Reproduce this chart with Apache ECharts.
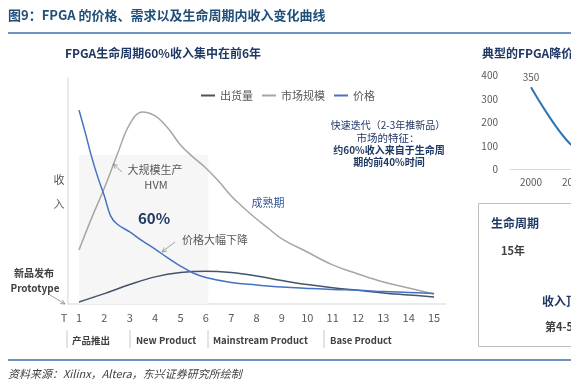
<!DOCTYPE html>
<html><head><meta charset="utf-8">
<script src="https://cdn.jsdelivr.net/npm/echarts@6/dist/echarts.min.js"></script>
<style>html,body{margin:0;padding:0;background:#fff}#c{width:571px;height:388px}</style>
</head><body><div id="c"></div>
<script>
// ---- data ----
const seriesNames = ['出货量', '市场规模', '价格'];
const xTicks = [1,2,3,4,5,6,7,8,9,10,11,12,13,14,15];
const xShipment = [1,2,3,4,5,6,7,8,9,10,11,12,13,14,15];
const shipment = [0.9,4.6,8.6,12.0,13.9,14.5,13.9,12.4,10.4,8.6,7.2,6.1,4.9,4.0,3.1];
const xMarket = [1,1.5,2,2.5,3,3.5,4,4.5,5,5.5,6,6.5,7,7.5,8,8.5,9,10,11,12,13,14,15];
const market = [23.9,38.1,51.3,65.9,79.6,85.0,83.2,77.9,70.4,65.0,60.2,54.4,47.8,42.5,37.6,33.2,28.8,23.0,17.3,13.3,9.7,7.1,4.4];
const xPrice = [1,1.25,1.5,1.75,2,2.25,2.5,3,3.5,4,4.5,5,5.5,6,7,8,9,10,11,12,13,14,15];
const price = [85.8,75.7,65.0,55.8,47.8,38.9,35.4,31.9,27.9,24.3,20.4,16.8,13.7,11.7,9.5,8.4,7.5,6.9,6.4,6.1,5.5,5.1,4.6];
const shadeRange = [1, 6.1];
const shadeTop = 66;
const fpgaYears = ['2000', '2005', '2010'];
const fpgaPrice = [350, 98, 50];
const rightYTicks = [0, 100, 200, 300, 400];

const FONT = '"Noto Sans CJK SC", "Noto Sans", sans-serif';
const NAVY = '#1f3864';
const GREY = '#595959';

function zip(xs, ys) { return xs.map((x, i) => [x, ys[i]]); }
function txt(x, y, text, size, color, opts) {
  opts = opts || {};
  return {
    type: 'text', silent: true, z: 100,
    style: {
      x: x, y: y, text: text,
      font: (opts.italic ? 'italic ' : '') + (opts.bold ? 'bold ' : '') + size + 'px ' + FONT,
      fill: color,
      textAlign: opts.align || 'left', align: opts.align || 'left',
      textVerticalAlign: 'middle', verticalAlign: 'middle'
    }
  };
}
function arrow(x1, y1, x2, y2) {
  const a = Math.atan2(y2 - y1, x2 - x1), L = 5, s = 0.45;
  const c = '#8c8c8c';
  return {
    type: 'group', silent: true, z: 100, children: [
      { type: 'line', z: 100, shape: { x1, y1, x2, y2 }, style: { stroke: c, lineWidth: 0.8 } },
      { type: 'polyline', z: 100, shape: { points: [
        [x2 - L * Math.cos(a - s), y2 - L * Math.sin(a - s)], [x2, y2],
        [x2 - L * Math.cos(a + s), y2 - L * Math.sin(a + s)]] },
        style: { stroke: c, lineWidth: 0.8, fill: null } }
    ]
  };
}
function vline(x, y1, y2, color, w) {
  return { type: 'line', silent: true, z: 100, shape: { x1: x, y1: y1, x2: x, y2: y2 }, style: { stroke: color, lineWidth: w } };
}
function hline(y, x1, x2, color, w) {
  return { type: 'line', silent: true, z: 100, shape: { x1: x1, y1: y, x2: x2, y2: y }, style: { stroke: color, lineWidth: w } };
}

const chart = echarts.init(document.getElementById('c'), null, { renderer: 'canvas' });
const option = {
  animation: false,
  backgroundColor: '#fff',
  textStyle: { fontFamily: FONT },
  legend: {
    data: seriesNames, left: 196, top: 85, icon: 'rect', itemWidth: 14, itemHeight: 2,
    itemGap: 9, textStyle: { color: GREY, fontSize: 11, fontFamily: FONT }
  },
  grid: [
    { left: 68, top: 78, width: 378, height: 226, outerBoundsMode: 'none', containLabel: false },
    { left: 510, top: 75.5, width: 126, height: 94, outerBoundsMode: 'none', containLabel: false }
  ],
  xAxis: [
    { type: 'value', gridIndex: 0, min: 0.566, max: 15.47,
      axisLine: { show: true, lineStyle: { color: '#e3e3e3', width: 1.5 } },
      axisTick: { show: false }, splitLine: { show: false },
      axisLabel: { customValues: xTicks, color: GREY, fontSize: 11, margin: 8, fontFamily: FONT,
        formatter: v => String(v) } },
    { type: 'category', gridIndex: 1, data: fpgaYears, boundaryGap: true,
      axisLine: { lineStyle: { color: '#d9d9d9' } }, axisTick: { show: false },
      axisLabel: { color: GREY, fontSize: 10, margin: 8, fontFamily: FONT, interval: 0 } }
  ],
  yAxis: [
    { type: 'value', gridIndex: 0, min: 0, max: 100,
      axisLine: { show: true, lineStyle: { color: '#e3e3e3', width: 1.5 } },
      axisTick: { show: false }, axisLabel: { show: false }, splitLine: { show: false } },
    { type: 'value', gridIndex: 1, min: 0, max: 400, interval: 100,
      axisLine: { show: false }, axisTick: { show: false }, splitLine: { show: false },
      axisLabel: { customValues: rightYTicks, color: GREY, fontSize: 10, margin: 12, fontFamily: FONT } }
  ],
  series: [
    { name: '市场规模', type: 'line', xAxisIndex: 0, yAxisIndex: 0, data: zip(xMarket, market),
      smooth: 0.4, symbol: 'none', lineStyle: { color: '#a6a6a6', width: 1.5 }, itemStyle: { color: '#a6a6a6' },
      z: 3,
      markArea: { silent: true, itemStyle: { color: '#f6f6f6' }, z: 1,
        data: [[{ xAxis: shadeRange[0], yAxis: 0 }, { xAxis: shadeRange[1], yAxis: shadeTop }]] } },
    { name: '出货量', type: 'line', xAxisIndex: 0, yAxisIndex: 0, data: zip(xShipment, shipment),
      smooth: 0.4, symbol: 'none', lineStyle: { color: '#44546a', width: 1.5 }, itemStyle: { color: '#44546a' }, z: 4 },
    { name: '价格', type: 'line', xAxisIndex: 0, yAxisIndex: 0, data: zip(xPrice, price),
      smooth: 0.4, symbol: 'none', lineStyle: { color: '#4472c4', width: 1.5 }, itemStyle: { color: '#4472c4' }, z: 5 },
    { name: 'FPGA降价', type: 'line', xAxisIndex: 1, yAxisIndex: 1, clip: false,
      data: fpgaPrice.map((v, i) => i === 0 ? { value: v, label: { show: true } } : v),
      smooth: 0.3, symbol: 'circle', symbolSize: 0, showSymbol: true, showAllSymbol: true,
      lineStyle: { color: '#2e75b6', width: 2 }, itemStyle: { color: '#2e75b6' },
      label: { show: false, position: 'top', distance: 5, color: GREY, fontSize: 10, fontFamily: FONT } }
  ],
  graphic: [
    txt(8, 15, '图9：FPGA 的价格、需求以及生命周期内收入变化曲线', 13, '#1f4e79', { bold: true }),
    hline(33, 8, 571, '#3f6fad', 1.5),
    hline(360, 8, 571, '#3f6fad', 1.5),
    txt(8, 374, '资料来源：Xilinx，Altera，东兴证券研究所绘制', 11, '#404040', { italic: true }),
    txt(163, 53, 'FPGA生命周期60%收入集中在前6年', 12, NAVY, { bold: true, align: 'center' }),
    txt(59, 180, '收', 11, GREY, { align: 'center' }),
    txt(59, 204, '入', 11, GREY, { align: 'center' }),
    txt(64, 318, 'T', 11, GREY, { align: 'center' }),
    txt(34, 273, '新品发布', 10, '#404040', { bold: true, align: 'center' }),
    txt(35, 288, 'Prototype', 10, '#404040', { bold: true, align: 'center' }),
    arrow(50, 295, 65, 304),
    txt(155, 170, '大规模生产', 11, GREY, { align: 'center' }),
    txt(156, 185, 'HVM', 11, GREY, { align: 'center' }),
    arrow(122, 172, 113, 164),
    txt(154, 218, '60%', 15, NAVY, { bold: true, align: 'center' }),
    txt(215, 240, '价格大幅下降', 11, GREY, { align: 'center' }),
    arrow(175, 242, 162, 252),
    txt(268, 203, '成熟期', 11, '#2f5597', { align: 'center' }),
    txt(388, 125, '快速迭代（2-3年推新品）', 10, NAVY, { align: 'center' }),
    txt(388, 138, '市场的特征：', 10.5, NAVY, { align: 'center' }),
    txt(389, 150, '约60%收入来自于生命周', 10, NAVY, { bold: true, align: 'center' }),
    txt(389, 162, '期的前40%时间', 10, NAVY, { bold: true, align: 'center' }),
    vline(67, 330, 348, '#c8c8c8', 1),
    vline(130, 330, 348, '#c8c8c8', 1),
    vline(208, 330, 348, '#c8c8c8', 1),
    vline(324, 330, 348, '#c8c8c8', 1),
    txt(72, 340, '产品推出', 9.5, '#404040', { bold: true }),
    txt(136, 340, 'New Product', 9.5, '#404040', { bold: true }),
    txt(213, 340, 'Mainstream Product', 9.5, '#404040', { bold: true }),
    txt(330, 340, 'Base Product', 9.5, '#404040', { bold: true }),
    txt(482, 53, '典型的FPGA降价曲线', 12, NAVY, { bold: true }),
    { type: 'rect', silent: true, z: 100, shape: { x: 478.5, y: 203.5, width: 200, height: 143 },
      style: { stroke: '#bfbfbf', lineWidth: 1, fill: null } },
    txt(491, 223, '生命周期', 12, NAVY, { bold: true }),
    txt(501, 251, '15年', 11, '#404040', { bold: true }),
    txt(542, 301, '收入顶峰', 12, NAVY, { bold: true }),
    txt(545, 327, '第4-5年', 11, '#404040', { bold: true })
  ]
};
chart.setOption(option);
</script></body></html>
